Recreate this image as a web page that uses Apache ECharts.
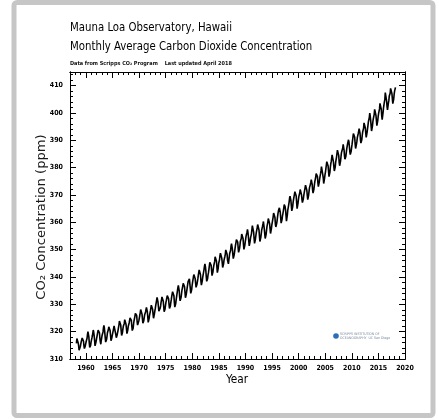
<!DOCTYPE html>
<html>
<head>
<meta charset="utf-8">
<script src="https://cdn.jsdelivr.net/npm/echarts@6/dist/echarts.min.js"></script>
<style>
html,body{margin:0;padding:0;background:#fff;}
#c{width:439px;height:420px;}
</style>
</head>
<body>
<div id="c"></div>
<script>
const titleLine1 = 'Mauna Loa Observatory, Hawaii';
const titleLine2 = 'Monthly Average Carbon Dioxide Concentration';
const subtitleText = 'Data from Scripps CO\u2082 Program    Last updated April 2018';
const xAxisTitle = 'Year';
const yAxisTitle = 'CO\u2082 Concentration (ppm)';

const xMajorTicks = [1960,1965,1970,1975,1980,1985,1990,1995,2000,2005,2010,2015,2020];
const yMajorTicks = [310,320,330,340,350,360,370,380,390,400,410];

const dataYears = [1958,1959,1960,1961,1962,1963,1964,1965,1966,1967,1968,1969,1970,1971,1972,1973,1974,1975,1976,1977,1978,1979,1980,1981,1982,1983,1984,1985,1986,1987,1988,1989,1990,1991,1992,1993,1994,1995,1996,1997,1998,1999,2000,2001,2002,2003,2004,2005,2006,2007,2008,2009,2010,2011,2012,2013,2014,2015,2016,2017,2018];

// monthly averages Jan..Dec (ppm)
const co2Monthly = [
[null,null,315.7,317.5,317.5,317.1,315.9,314.9,313.2,312.7,313.3,314.7],
[315.6,316.4,316.7,317.7,318.3,318.2,316.5,314.8,313.8,313.3,314.8,315.6],
[316.4,317.0,317.6,319.0,320.0,319.6,318.2,315.9,314.2,313.8,315.0,316.2],
[316.9,317.7,318.5,319.5,320.6,319.8,318.6,316.8,314.8,315.4,316.1,317.0],
[317.9,318.6,319.7,320.6,321.0,320.6,319.6,317.4,316.3,315.4,316.7,317.7],
[318.7,319.1,319.9,321.4,322.3,321.5,319.7,317.8,316.2,316.0,317.1,318.3],
[319.6,320.1,320.7,321.8,322.3,321.9,320.4,318.7,316.7,316.8,317.8,318.7],
[319.4,320.4,320.9,322.1,322.2,321.9,321.4,318.8,317.8,317.3,318.9,319.4],
[320.6,321.6,322.4,323.9,324.0,323.8,322.4,320.4,318.6,318.1,319.8,321.1],
[322.1,322.5,323.0,324.4,325.0,324.1,322.6,320.9,319.3,319.3,320.7,322.0],
[322.6,323.2,323.9,325.0,325.6,325.4,324.1,322.0,320.4,320.3,321.3,322.8],
[324.0,324.4,325.6,326.7,327.3,326.8,325.9,323.7,322.4,321.8,322.9,324.1],
[325.0,326.0,326.9,328.1,328.1,327.7,326.4,324.7,323.1,323.2,324.0,325.1],
[326.2,326.7,327.2,327.8,328.9,328.6,327.3,325.5,323.4,323.6,324.8,326.0],
[326.8,327.6,327.8,329.7,330.1,329.1,328.1,326.3,324.9,325.1,326.5,327.6],
[328.5,329.6,330.3,331.5,332.5,332.1,330.9,329.3,327.5,327.2,328.2,328.6],
[329.4,330.7,331.5,332.7,333.2,332.2,331.1,329.1,327.3,327.3,328.3,329.6],
[330.7,331.5,331.9,333.2,333.9,333.5,332.0,330.0,328.5,328.3,329.4,330.6],
[331.6,332.8,333.5,334.6,334.8,334.0,333.1,330.7,329.0,328.8,330.2,331.6],
[332.7,333.1,335.0,336.1,336.9,336.2,334.9,332.6,331.3,331.3,332.4,333.6],
[335.0,335.3,336.7,337.7,338.0,338.0,336.4,334.4,332.4,332.4,333.8,334.9],
[336.1,336.7,338.3,339.0,339.2,339.3,337.5,335.8,334.0,334.2,335.3,336.8],
[337.9,338.3,340.0,340.9,341.5,341.3,339.4,337.7,336.2,336.2,337.3,338.3],
[339.3,340.6,341.6,342.6,343.0,342.5,340.8,338.5,337.0,337.1,338.6,339.9],
[340.9,341.8,342.8,344.0,344.8,343.9,342.4,340.2,338.4,338.4,339.4,340.8],
[341.6,342.8,343.4,345.4,346.1,345.8,344.3,342.5,340.5,340.5,341.8,343.2],
[344.2,344.9,345.7,347.4,347.8,347.2,345.8,343.7,341.6,341.9,343.3,345.0],
[345.5,346.4,347.9,348.7,349.3,348.7,346.9,345.3,343.5,343.4,344.7,346.1],
[346.8,347.5,348.3,349.9,350.5,350.0,348.3,346.2,345.5,344.8,346.2,347.5],
[348.7,348.9,349.8,351.4,352.2,351.6,350.2,348.2,346.7,346.7,348.1,349.3],
[350.5,351.7,352.5,353.7,354.4,353.9,352.8,350.5,349.0,349.4,350.4,351.6],
[353.1,353.4,354.1,355.7,356.0,355.4,354.1,351.8,350.1,350.3,351.6,352.9],
[353.9,355.1,355.8,356.4,357.4,356.4,354.9,353.1,351.4,351.7,353.1,354.4],
[354.9,355.8,357.3,358.8,359.2,358.2,356.3,354.0,352.3,352.4,353.9,355.2],
[356.3,357.2,358.0,359.2,359.7,359.4,357.2,355.0,353.0,353.4,354.4,355.7],
[357.1,357.4,358.6,359.4,360.3,359.6,357.5,355.8,354.1,354.2,355.5,357.0],
[358.4,359.0,360.1,361.4,361.8,360.9,359.5,357.6,355.9,356.2,357.7,359.1],
[360.0,361.0,362.0,363.4,363.8,363.3,361.8,359.3,358.3,358.1,359.6,360.8],
[362.2,363.4,364.3,364.7,365.3,365.1,363.7,361.6,359.7,359.7,361.0,362.4],
[363.2,364.2,364.7,366.5,366.8,365.7,364.5,362.4,360.4,361.0,362.7,364.5],
[365.4,366.1,367.4,368.8,369.6,369.1,368.0,366.1,364.2,364.5,365.7,367.3],
[368.4,369.3,369.8,371.2,371.1,370.5,369.6,367.1,365.0,365.5,366.9,368.3],
[369.5,369.7,370.8,372.0,371.8,371.9,370.0,368.3,367.2,367.2,368.5,369.8],
[370.8,371.7,372.6,373.6,374.0,373.4,371.7,369.8,368.3,368.6,369.9,371.4],
[372.7,373.4,373.9,374.7,375.6,375.4,373.9,371.8,370.7,370.5,372.2,373.7],
[374.9,375.6,376.5,377.8,378.5,378.2,376.7,374.3,373.1,373.1,374.7,376.0],
[377.0,377.9,378.9,380.4,380.6,379.7,377.4,376.3,374.2,374.5,376.2,377.5],
[378.4,379.7,380.9,382.2,382.5,382.1,380.6,378.6,376.7,376.8,378.3,380.1],
[381.4,382.2,382.7,384.7,384.9,384.0,382.1,380.3,378.8,379.0,380.2,381.9],
[382.9,383.9,384.5,386.4,386.5,386.0,384.4,381.9,380.7,381.2,382.4,383.9],
[385.4,385.7,386.0,387.2,388.5,387.9,386.4,384.2,383.1,383.0,384.1,385.5],
[386.9,387.4,388.8,389.5,390.2,389.4,387.7,385.9,384.8,384.4,386.0,387.3],
[388.5,389.8,391.1,392.5,393.1,392.8,391.1,388.7,387.0,387.0,388.6,389.7],
[391.1,391.8,392.5,393.4,394.3,393.7,392.6,390.2,389.0,388.9,390.2,391.8],
[393.1,393.4,394.4,396.4,396.9,395.9,394.5,392.5,391.1,391.0,393.0,394.3],
[395.6,396.9,397.3,398.4,400.0,398.9,397.4,395.4,393.4,393.7,395.2,396.8],
[397.9,398.1,399.5,401.3,401.9,401.3,399.1,397.2,395.4,395.7,397.2,398.8],
[399.9,400.3,401.5,403.5,403.9,402.8,401.3,398.9,397.6,398.3,400.2,401.9],
[402.6,404.1,404.9,407.5,407.7,406.8,404.4,402.3,401.1,401.6,403.6,404.5],
[406.2,406.5,407.2,409.0,409.7,408.9,407.1,405.1,403.4,403.6,405.1,406.8],
[408.0,408.3,409.4,null,null,null,null,null,null,null,null,null]
];

const points = [];
dataYears.forEach(function(yr, i){
  co2Monthly[i].forEach(function(v, m){
    if (v !== null) points.push([yr + (m + 0.5) / 12, v]);
  });
});

const FONT = "'Liberation Sans Narrow','DejaVu Sans Condensed','Arial Narrow','Liberation Sans',sans-serif";
const X_MIN = 1957, X_MAX = 2020, Y_MIN = 310, Y_MAX = 415;
const plain = function(v){ return String(v); };

function xAx(pos, major, labels) {
  const a = {
    type: 'value', position: pos, min: X_MIN, max: X_MAX,
    splitLine: {show: false},
    axisLine: {show: true, onZero: false, lineStyle: {color: '#000', width: 1}},
    axisTick: {show: true, inside: true, length: major ? 6 : 3, lineStyle: {color: '#000', width: 1}},
    axisLabel: {show: false}
  };
  if (major) {
    a.axisTick.customValues = xMajorTicks;
    a.axisLabel = labels ? {show: true, customValues: xMajorTicks, formatter: plain, fontFamily: FONT, fontSize: 7, fontWeight: 'bold', color: '#000', margin: 6} : {show: false};
  } else {
    a.interval = 1;
  }
  return a;
}
function yAx(pos, major, labels) {
  const a = {
    type: 'value', position: pos, min: Y_MIN, max: Y_MAX,
    splitLine: {show: false},
    axisLine: {show: true, onZero: false, lineStyle: {color: '#000', width: 1}},
    axisTick: {show: true, inside: true, length: major ? 6 : 3, lineStyle: {color: '#000', width: 1}},
    axisLabel: {show: false}
  };
  if (major) {
    a.axisTick.customValues = yMajorTicks;
    a.axisLabel = labels ? {show: true, customValues: yMajorTicks, formatter: plain, fontFamily: FONT, fontSize: 7, fontWeight: 'bold', color: '#000', margin: 7} : {show: false};
  } else {
    a.interval = 2;
  }
  return a;
}

const chart = echarts.init(document.getElementById('c'), null, {renderer: 'canvas'});
chart.setOption({
  animation: false,
  backgroundColor: '#fff',
  grid: {left: 70, top: 72, right: 34, bottom: 61, containLabel: false},
  xAxis: [xAx('bottom', false), xAx('bottom', true, true), xAx('top', false), xAx('top', true, false)],
  yAxis: [yAx('left', false), yAx('left', true, true), yAx('right', false), yAx('right', true, false)],
  series: [{
    type: 'line', xAxisIndex: 0, yAxisIndex: 0, data: points,
    showSymbol: false, symbol: 'none',
    lineStyle: {color: '#000', width: 1.6}
  }],
  graphic: [
    {type: 'rect', shape: {x: 14, y: 2.5, width: 419, height: 413, r: 3}, style: {fill: 'none', stroke: '#c6c6c6', lineWidth: 5}, z: 100},
    {type: 'text', x: 70, y: 28, scaleX: 0.87, style: {text: titleLine1, font: "13px " + FONT, fill: '#000', verticalAlign: 'middle'}},
    {type: 'text', x: 70, y: 47, scaleX: 0.87, style: {text: titleLine2, font: "13px " + FONT, fill: '#000', verticalAlign: 'middle'}},
    {type: 'text', x: 70, y: 64, style: {text: subtitleText, font: "bold 5.5px " + FONT, fill: '#111', verticalAlign: 'middle'}},
    {type: 'text', x: 237, y: 380, scaleX: 0.9, style: {text: xAxisTitle, font: "13px " + FONT, fill: '#000', align: 'center', verticalAlign: 'middle'}},
    {type: 'text', x: 42, y: 217, rotation: Math.PI / 2, scaleX: 1.12, style: {text: yAxisTitle, font: "13px " + FONT, fill: '#1a1a1a', align: 'center', verticalAlign: 'middle'}},
    {type: 'circle', shape: {cx: 336, cy: 336, r: 2.8}, style: {fill: '#2a6fb5'}},
    {type: 'text', x: 340, y: 334, style: {text: 'SCRIPPS INSTITUTION OF', font: "3.5px " + FONT, fill: '#7a8aa0', verticalAlign: 'middle'}},
    {type: 'text', x: 340, y: 338.5, style: {text: 'OCEANOGRAPHY  UC San Diego', font: "3.5px " + FONT, fill: '#7a8aa0', verticalAlign: 'middle'}}
  ]
});
</script>
</body>
</html>
